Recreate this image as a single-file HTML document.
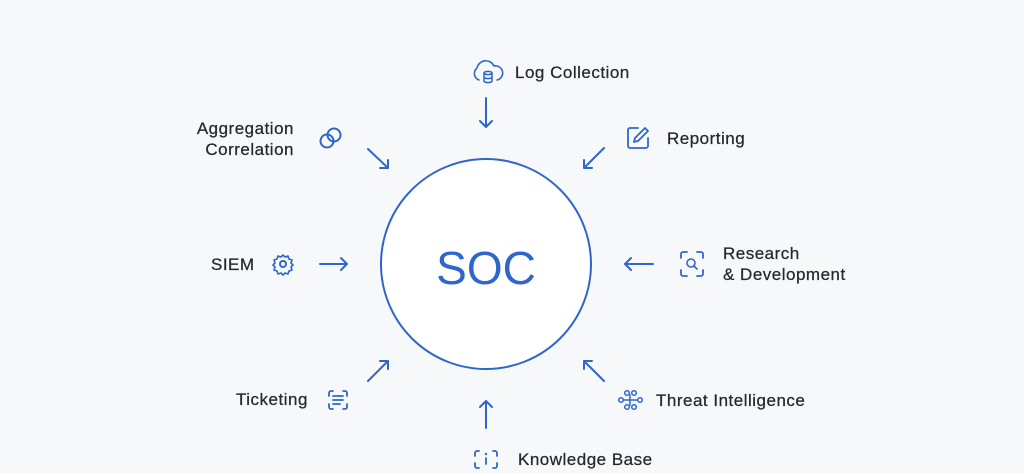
<!DOCTYPE html>
<html><head><style>
html,body{margin:0;padding:0;background:#f7f8fa;}
svg{display:block}
text{font-family:"Liberation Sans",sans-serif;fill:#24282f;font-size:17px;letter-spacing:0.5px;stroke:#24282f;stroke-width:0.25px}
</style></head><body>
<svg width="1024" height="473" viewBox="0 0 1024 473">
<rect width="1024" height="473" fill="#f7f8fa"/>
<g stroke="#2f66cc" fill="none" stroke-width="2" stroke-linecap="round" stroke-linejoin="round">
<circle cx="486" cy="264" r="105" fill="#fff"/>
<path d="M486 98 V127 M480 121 L486 127 L492 121"/>
<path d="M368 149 L388 168 M380 168 H388 V160"/>
<path d="M604 148 L584 168 M584 160 V168 H592"/>
<path d="M320 264 H347 M341 258 L347 264 L341 270"/>
<path d="M653 264 H625 M631 258 L625 264 L631 270"/>
<path d="M368 381 L388 361 M380 361 H388 V369"/>
<path d="M604 381 L584 361 M584 369 V361 H592"/>
<path d="M486 428 V401 M480 407 L486 401 L492 407"/>
<path d="M479 80 a7 7 0 0 1 -2 -12 a9 9 0 0 1 17 -2 a6 6 0 0 1 3 14" stroke-width="1.6"/>
<ellipse cx="488" cy="73" rx="4" ry="1.6" stroke-width="1.5"/><path d="M484 73 V81 a4 1.6 0 0 0 8 0 V73 M484 77 a4 1.6 0 0 0 8 0" stroke-width="1.5"/>
<circle cx="327" cy="141" r="6.5"/><circle cx="334" cy="135" r="6.5"/>
<path d="M638 128 h-8 a2 2 0 0 0 -2 2 v16 a2 2 0 0 0 2 2 h16 a2 2 0 0 0 2 -2 v-8 M634 142 l1 -4 l10 -10 l3 3 l-10 10 z" stroke-width="1.8"/>
<circle cx="283" cy="264" r="3"/><path d="M283 255 l2 2 3 -1 1 3 3 1 -1 3 2 2 -2 2 1 3 -3 1 -1 3 -3 -1 -2 2 -2 -2 -3 1 -1 -3 -3 -1 1 -3 -2 -2 2 -2 -1 -3 3 -1 1 -3 3 1 z" stroke-width="1.6"/>
<path d="M681 258 v-4 a2 2 0 0 1 2 -2 h4 M697 252 h4 a2 2 0 0 1 2 2 v4 M703 270 v4 a2 2 0 0 1 -2 2 h-4 M687 276 h-4 a2 2 0 0 1 -2 -2 v-4" stroke-width="1.8"/>
<circle cx="691" cy="263" r="4" stroke-width="1.6"/><path d="M694 266 l3 3" stroke-width="1.6"/>
<path d="M329 396 v-3 a2 2 0 0 1 2 -2 h2 M343 391 h2 a2 2 0 0 1 2 2 v3 M347 404 v3 a2 2 0 0 1 -2 2 h-2 M333 409 h-2 a2 2 0 0 1 -2 -2 v-3 M333 396 h10 M333 400 h10 M333 404 h7" stroke-width="1.8"/>
<path d="M475 456 v-3 a2 2 0 0 1 2 -2 h2 M493 451 h2 a2 2 0 0 1 2 2 v3 M497 463 v3 a2 2 0 0 1 -2 2 h-2 M479 468 h-2 a2 2 0 0 1 -2 -2 v-3 M486 458 v6" stroke-width="1.8"/>
<g stroke-width="1.5"><circle cx="627" cy="393" r="2.3"/><circle cx="634" cy="393" r="2.3"/><circle cx="621" cy="400" r="2.3"/><circle cx="640" cy="400" r="2.3"/><circle cx="627" cy="407" r="2.3"/><circle cx="634" cy="407" r="2.3"/><path d="M624 400 h13 M630 395 v10"/></g>
</g>
<circle cx="486" cy="454" r="1.2" fill="#2f66cc"/>
<text x="486" y="284" text-anchor="middle" style="font-size:46px;fill:#2f66cc;stroke:none;letter-spacing:0">SOC</text>
<text x="515" y="78">Log Collection</text>
<text x="294" y="134" text-anchor="end">Aggregation</text>
<text x="294" y="155" text-anchor="end">Correlation</text>
<text x="667" y="144">Reporting</text>
<text x="211" y="270">SIEM</text>
<text x="723" y="259">Research</text>
<text x="723" y="280">&amp; Development</text>
<text x="236" y="405">Ticketing</text>
<text x="656" y="406">Threat Intelligence</text>
<text x="518" y="465">Knowledge Base</text>
</svg>
</body></html>
